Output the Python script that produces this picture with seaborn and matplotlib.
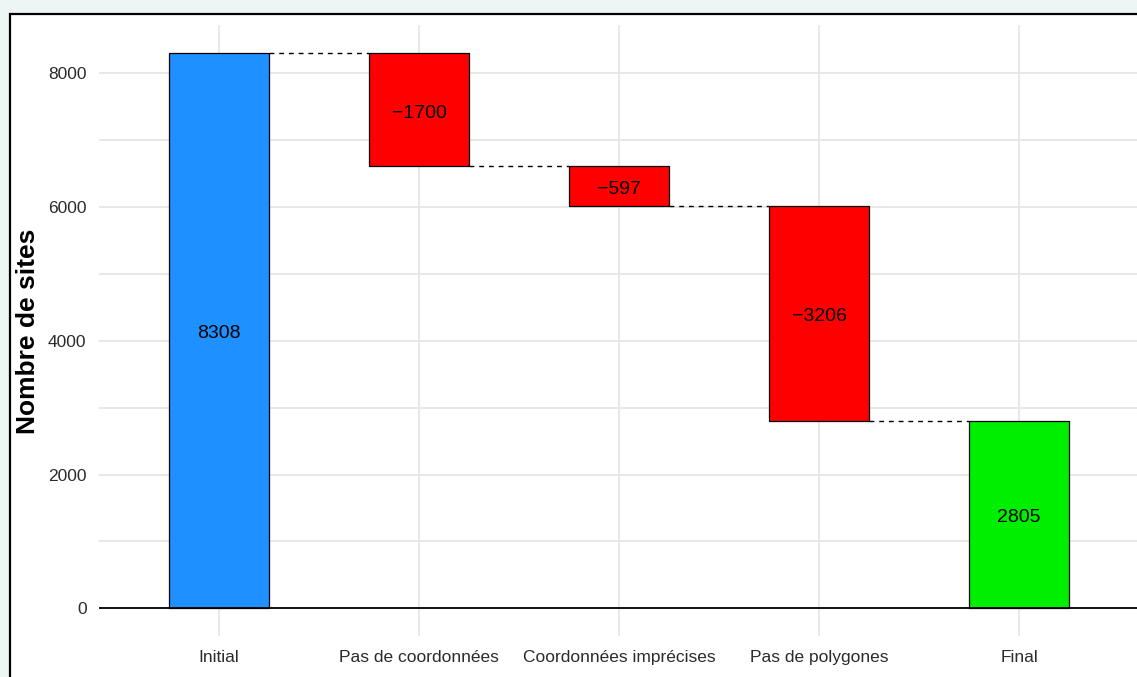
import numpy as np
import pandas as pd
import seaborn as sns
import matplotlib.pyplot as plt
from matplotlib.patches import Rectangle

# données du graphique en cascade
etapes = ["Initial", "Pas de coordonnées", "Coordonnées imprécises", "Pas de polygones", "Final"]
variations = [8308, -1700, -597, -3206, 2805]
types = ["Initial", "Perte", "Perte", "Perte", "Final"]
couleurs = {"Initial": "#1E90FF", "Perte": "#FF0000", "Final": "#00EE00"}

# début / fin de chaque barre
debut, fin = [], []
niveau = 0
for v, t in zip(variations, types):
    if t == "Final":
        debut.append(0)
        fin.append(v)
    else:
        debut.append(niveau)
        niveau += v
        fin.append(niveau)

df = pd.DataFrame({
    "etape": etapes,
    "type": types,
    "debut": debut,
    "fin": fin,
})
df["hauteur"] = (df["fin"] - df["debut"]).abs()
df["bas"] = df[["debut", "fin"]].min(axis=1)

sns.set_style("whitegrid")
plt.rcParams["font.family"] = ["Liberation Sans", "DejaVu Sans"]

fig = plt.figure(figsize=(11.37, 6.77), dpi=100)
fig.patch.set_facecolor("#EDF6F4")

# cadre noir autour du graphique (coupé à droite et en bas)
cadre = Rectangle((10 / 1137, -0.2), 1.2, 1.2 - 14 / 677,
                  transform=fig.transFigure, facecolor="white",
                  edgecolor="black", linewidth=1.6, zorder=-10)
fig.add_artist(cadre)

ax = fig.add_axes([99 / 1137, 41 / 677, 1040 / 1137, 611 / 677])
ax.set_facecolor("white")

sns.barplot(data=df, x="etape", y="hauteur", hue="type", palette=couleurs,
            order=etapes, dodge=False, width=0.5, saturation=1,
            edgecolor="black", linewidth=0.9, legend=False, ax=ax, zorder=3)

# déplacer chaque barre à son niveau de départ
for p in ax.patches:
    i = int(round(p.get_x() + p.get_width() / 2))
    p.set_y(df["bas"][i])

# étiquettes des valeurs
for i, v in enumerate(variations):
    txt = str(v).replace("-", "\u2212")
    ax.annotate(txt, (i, (df["debut"][i] + df["fin"][i]) / 2), xytext=(0, -2.5),
                textcoords="offset points", ha="center", va="center",
                fontsize=14, color="black", zorder=5)

# lignes pointillées entre les barres
for i in range(len(etapes) - 1):
    ax.plot([i + 0.25, i + 0.75], [df["fin"][i], df["fin"][i]], color="black",
            linestyle=(0, (3.5, 3.5)), linewidth=1.0, zorder=4)

ax.axhline(0, color="black", linewidth=1.3, zorder=4)

ax.set_xlim(-0.6, len(etapes) - 0.4)
ax.set_ylim(-415, 8723)
ax.set_yticks(np.arange(0, 8001, 2000))
ax.set_yticks(np.arange(1000, 8001, 2000), minor=True)
ax.grid(which="both", axis="y", color="#E6E6E6", linewidth=1.3, zorder=0)
ax.grid(which="major", axis="x", color="#E6E6E6", linewidth=1.3, zorder=0)
ax.set_axisbelow(True)
for s in ax.spines.values():
    s.set_visible(False)

ax.tick_params(axis="both", which="both", length=0, labelsize=12.5, colors="#2b2b2b")
ax.tick_params(axis="x", pad=10)
ax.tick_params(axis="y", pad=9)
ax.set_xlabel("")
ax.set_ylabel("")
fig.text(28 / 1137, 1 - 331 / 677, "Nombre de sites", rotation=90, ha="center",
         va="center", fontsize=19, fontweight="bold", color="black")

fig.savefig("out.png", dpi=100, facecolor=fig.get_facecolor())
